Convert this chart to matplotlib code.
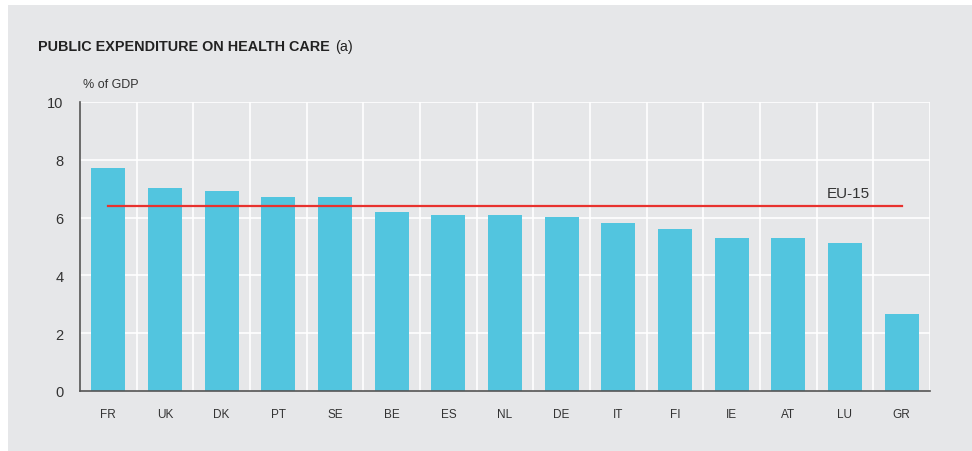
import matplotlib
matplotlib.use("Agg")
import matplotlib.pyplot as plt
from matplotlib.patches import Rectangle

categories = ["FR", "UK", "DK", "PT", "SE", "BE", "ES", "NL", "DE", "IT", "FI", "IE", "AT", "LU", "GR"]
values = [7.72, 7.02, 6.92, 6.71, 6.71, 6.19, 6.09, 6.09, 6.02, 5.81, 5.60, 5.29, 5.29, 5.12, 2.66]
eu15 = 6.41
yticks = [0, 2, 4, 6, 8, 10]

plt.rcParams['font.family'] = ['Liberation Sans', 'DejaVu Sans']
BG = "#e6e7e9"
BAR = "#52c5df"
TXT = "#333333"

fig = plt.figure(figsize=(9.72, 4.52), dpi=100, facecolor="white")
fig.patches.append(Rectangle((8/972, 0), 1, 1 - 6/452, transform=fig.transFigure,
                             facecolor=BG, edgecolor="none", zorder=-10))

W, H = 972, 452
left, right, top, bottom = 80, 930, 103, 392
ax = fig.add_axes([left/W, 1 - bottom/H, (right-left)/W, (bottom-top)/H])
ax.set_facecolor(BG)

x = range(len(categories))
ax.bar(x, values, width=0.6, color=BAR, zorder=2)
ax.set_xlim(-0.5, len(categories) - 0.5)
ax.set_ylim(0, 10)

# grid
for yv in yticks[1:]:
    ax.axhline(yv, color="white", lw=1.2, zorder=1)
for i in range(1, len(categories) + 1):
    ax.axvline(i - 0.5, color="white", lw=1.2, zorder=1)

ax.plot([0, len(categories) - 1], [eu15, eu15], color="#e8322e", lw=1.6, zorder=3)
ax.text(13.05, eu15 + 0.2, "EU-15", ha="center", va="bottom", fontsize=11, color=TXT, zorder=4)

for s in ["top", "right"]:
    ax.spines[s].set_visible(False)
ax.spines["left"].set_color("#555555")
ax.spines["bottom"].set_color("#555555")
ax.spines["left"].set_linewidth(1.2)
ax.spines["bottom"].set_linewidth(1.2)
ax.spines["bottom"].set_zorder(5)

ax.set_yticks(yticks)
ax.set_yticklabels([str(v) for v in yticks], fontsize=10.5, color=TXT)
ax.set_xticks(list(x))
ax.set_xticklabels(categories, fontsize=8.5, color=TXT)
ax.tick_params(axis="both", length=0)
ax.tick_params(axis="y", pad=12)
ax.tick_params(axis="x", pad=12)

fig.text(38/W, 1 - 47/H, "PUBLIC EXPENDITURE ON HEALTH CARE", fontsize=10.4, fontweight="bold",
         color="#222222", va="center", ha="left")
fig.text(335/W, 1 - 47/H, "(a)", fontsize=10.4, color="#222222", va="center", ha="left")
fig.text(83/W, 1 - 85/H, "% of GDP", fontsize=9, color=TXT, va="center", ha="left")

fig.savefig("out.png", dpi=100, facecolor="white")
